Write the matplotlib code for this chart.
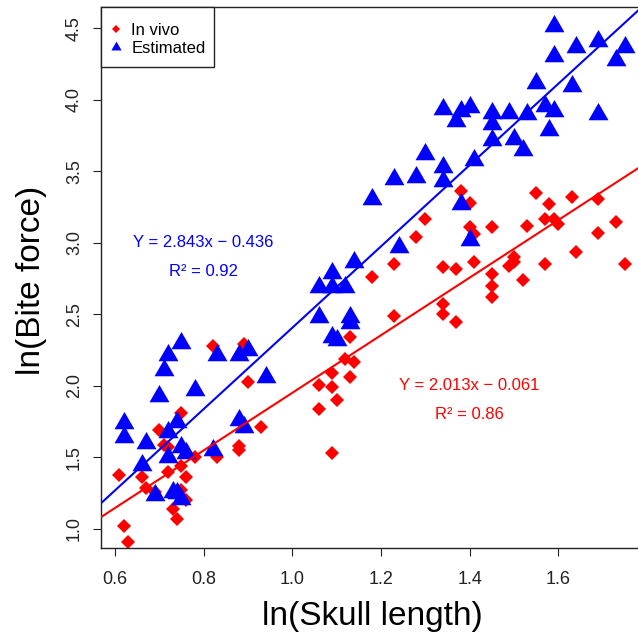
import matplotlib
matplotlib.use('Agg')
import matplotlib.pyplot as plt
from matplotlib.lines import Line2D
from matplotlib.patches import Rectangle
import numpy as np

plt.rcParams['font.family'] = ['Liberation Sans', 'DejaVu Sans']

# ---- data ----
invivo_x = [1.38, 1.40, 1.55, 1.58, 1.63, 1.69, 1.73, 1.69, 1.64, 1.57, 1.75, 1.57,
            1.59, 1.60, 1.53, 1.45, 1.40, 1.41, 1.30, 1.28, 1.41, 1.34, 1.37, 1.23,
            1.18, 1.50, 1.50, 1.49, 1.52, 1.45, 1.45, 1.45, 1.34, 1.34, 1.37, 1.23,
            1.13, 1.12, 1.14, 1.09, 1.13, 1.06, 1.09, 1.10, 1.06, 1.09, 0.82, 0.89,
            0.90, 0.75, 0.70, 0.71, 0.72, 0.61, 0.66, 0.67, 0.69, 0.72, 0.75, 0.76,
            0.75, 0.76, 0.73, 0.74, 0.62, 0.63, 0.78, 0.83, 0.88, 0.88, 0.93]
invivo_y = [3.36, 3.28, 3.35, 3.27, 3.32, 3.31, 3.15, 3.07, 2.94, 2.85, 2.85, 3.17,
            3.17, 3.13, 3.12, 3.11, 3.11, 3.06, 3.17, 3.04, 2.87, 2.83, 2.82, 2.85,
            2.76, 2.90, 2.87, 2.84, 2.74, 2.78, 2.70, 2.62, 2.57, 2.50, 2.45, 2.49,
            2.34, 2.19, 2.17, 2.09, 2.06, 2.01, 1.99, 1.90, 1.84, 1.53, 2.28, 2.29,
            2.03, 1.81, 1.69, 1.59, 1.57, 1.38, 1.36, 1.29, 1.26, 1.40, 1.44, 1.36,
            1.27, 1.20, 1.14, 1.07, 1.02, 0.91, 1.50, 1.50, 1.58, 1.55, 1.71]

est_x = [1.59, 1.59, 1.64, 1.69, 1.75, 1.73, 1.55, 1.63, 1.69, 1.57, 1.59, 1.58,
         1.53, 1.49, 1.45, 1.45, 1.45, 1.50, 1.52, 1.40, 1.38, 1.37, 1.34, 1.41,
         1.34, 1.34, 1.30, 1.28, 1.23, 1.18, 1.38, 1.40, 1.24, 1.14, 1.09, 1.06,
         1.09, 1.12, 1.06, 1.13, 1.13, 1.09, 1.10, 0.94, 0.75, 0.72, 0.71, 0.70,
         0.78, 0.83, 0.88, 0.90, 0.62, 0.62, 0.67, 0.72, 0.74, 0.75, 0.76, 0.72,
         0.66, 0.69, 0.73, 0.74, 0.75, 0.82, 0.88, 0.89]
est_y = [4.52, 4.31, 4.37, 4.41, 4.37, 4.28, 4.12, 4.10, 3.90, 3.96, 3.92, 3.79,
         3.90, 3.91, 3.91, 3.83, 3.72, 3.73, 3.65, 3.95, 3.92, 3.85, 3.94, 3.58,
         3.53, 3.43, 3.62, 3.46, 3.45, 3.31, 3.27, 3.02, 2.97, 2.87, 2.79, 2.69,
         2.69, 2.69, 2.48, 2.48, 2.44, 2.34, 2.32, 2.06, 2.30, 2.22, 2.11, 1.93,
         1.97, 2.22, 2.22, 2.25, 1.74, 1.64, 1.60, 1.68, 1.75, 1.57, 1.53, 1.50,
         1.45, 1.24, 1.26, 1.25, 1.21, 1.55, 1.76, 1.71]

fit_est = (2.843, -0.436)
fit_vivo = (2.013, -0.061)
eq_est = ["Y = 2.843x \u2212 0.436", "R\u00b2 = 0.92"]
eq_vivo = ["Y = 2.013x \u2212 0.061", "R\u00b2 = 0.86"]
eq_est_pos = [(0.8, 3.0), (0.8, 2.8)]
eq_vivo_pos = [(1.4, 2.0), (1.4, 1.8)]

xticks = [0.6, 0.8, 1.0, 1.2, 1.4, 1.6]
xticklabels = ["0.6", "0.8", "1.0", "1.2", "1.4", "1.6"]
yticks = [1.0, 1.5, 2.0, 2.5, 3.0, 3.5, 4.0, 4.5]
yticklabels = ["1.0", "1.5", "2.0", "2.5", "3.0", "3.5", "4.0", "4.5"]
legend_labels = ["In vivo", "Estimated"]

RED = '#FF0000'
BLUE = '#0000FF'

# equilateral triangle marker (like R pch 17)
tri = [(0, 0.577), (-0.5, -0.289), (0.5, -0.289), (0, 0.577)]

W, H = 638, 633
fig = plt.figure(figsize=(W/100, H/100), dpi=100)
ax_l, ax_b, ax_w, ax_h = 101, 85, W - 101, 548 - 7
ax = fig.add_axes([ax_l/W, ax_b/H, ax_w/W, ax_h/H])

xlim = (0.5684, 1.780)
ylim = (0.867, 4.650)

ax.plot(invivo_x, invivo_y, ls='none', marker='D', ms=7.2, mew=0,
        color=RED, zorder=2)
ax.plot(est_x, est_y, ls='none', marker=tri, ms=16.6, mew=0,
        color=BLUE, zorder=3)

xs = np.array(xlim)
ax.plot(xs, fit_vivo[0]*xs + fit_vivo[1], color=RED, lw=1.5, zorder=4)
ax.plot(xs, fit_est[0]*xs + fit_est[1], color=BLUE, lw=1.5, zorder=4)

for t, (x, y) in zip(eq_est, eq_est_pos):
    ax.text(x, y, t, color=BLUE, fontsize=12, ha='center', va='center')
for t, (x, y) in zip(eq_vivo, eq_vivo_pos):
    ax.text(x, y, t, color=RED, fontsize=12, ha='center', va='center')

ax.set_xlim(*xlim)
ax.set_ylim(*ylim)
ax.set_xticks(xticks)
ax.set_xticklabels(xticklabels)
ax.set_yticks(yticks)
ax.set_yticklabels(yticklabels, rotation=90, va='center')
ax.tick_params(direction='out', length=5.5, width=0.8, labelsize=13,
               colors='#222222')
ax.tick_params(axis='x', pad=11)
ax.tick_params(axis='y', pad=7.5)
for s in ['left', 'bottom', 'top']:
    ax.spines[s].set_linewidth(1.0)
    ax.spines[s].set_color('#222222')
ax.spines['right'].set_visible(False)

# legend: frame box drawn separately so its size matches R's legend box
frame = Rectangle((0, 1 - 60/ax_h), 113/ax_w, 60/ax_h, transform=ax.transAxes,
                  facecolor='white', edgecolor='#222222', lw=1.0,
                  zorder=5, clip_on=False)
ax.add_patch(frame)
handles = [Line2D([], [], ls='none', marker='D', ms=3.6, mew=0, color=RED),
           Line2D([], [], ls='none', marker=tri, ms=8.5, mew=0, color=BLUE)]
leg = ax.legend(handles, legend_labels, loc='upper left',
                bbox_to_anchor=(0, 1 - 6/ax_h),
                borderaxespad=0, fontsize=12, frameon=False, borderpad=0.6,
                handlelength=0.64, handletextpad=0.58, labelspacing=0.16)
leg.set_zorder(6)

fig.text(372/W, 1 - 625/H, 'ln(Skull length)', fontsize=24,
         ha='center', va='baseline')
fig.text(40/W, 1 - 280/H, 'ln(Bite force)', fontsize=24, rotation=90,
         rotation_mode='anchor', ha='center', va='baseline')

fig.savefig('out.png', dpi=100)
